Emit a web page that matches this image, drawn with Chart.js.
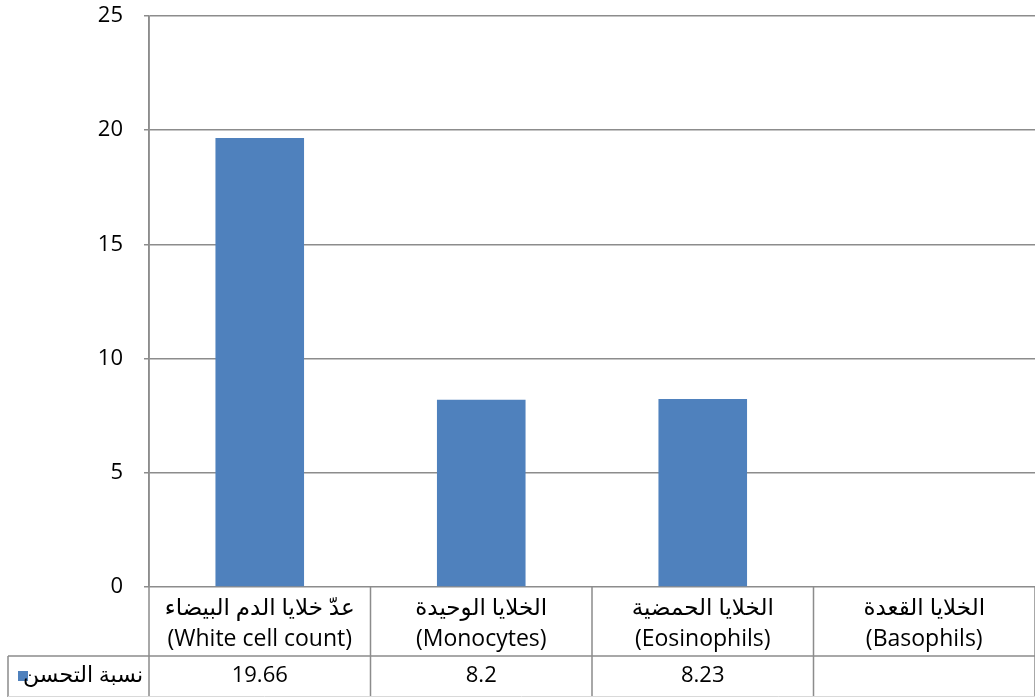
<!DOCTYPE html>
<html>
<head>
<meta charset="utf-8">
<script src="https://cdn.jsdelivr.net/npm/chart.js@4.4.1/dist/chart.umd.min.js"></script>
<style>
  html, body { margin: 0; padding: 0; background: #fff; }
  #wrap { width: 1035px; height: 697px; position: relative; }
</style>
</head>
<body>
<div id="wrap"><canvas id="c" width="1035" height="697"></canvas></div>
<script>
// ---- data ----
const categoriesAr = ['عدّ خلايا الدم البيضاء', 'الخلايا الوحيدة', 'الخلايا الحمضية', 'الخلايا القعدة'];
const categoriesEn = ['(White cell count)', '(Monocytes)', '(Eosinophils)', '(Basophils)'];
const seriesName = 'نسبة التحسن';
const seriesValues = [19.66, 8.2, 8.23, null];
const valueLabels = ['19.66', '8.2', '8.23', ''];
const yTicks = [0, 5, 10, 15, 20, 25];

const FONT = "'Open Sans', 'DejaVu Sans', sans-serif";
const BAR_COLOR = '#4F81BD';
const LINE_COLOR = '#8c8c8c';

const labels = categoriesAr.map((a, i) => [a, categoriesEn[i]]);

const tablePlugin = {
  id: 'dataTable',
  afterDraw(chart) {
    const ctx = chart.ctx;
    const xs = chart.scales.x;
    const area = chart.chartArea;
    const H = chart.height;
    const rowTop = 656;
    const rowBottom = 696;
    const n = labels.length;
    const half = (xs.getPixelForValue(1) - xs.getPixelForValue(0)) / 2;
    ctx.save();
    ctx.strokeStyle = LINE_COLOR;
    ctx.lineWidth = 1.5;
    ctx.beginPath();
    ctx.moveTo(area.left, area.top);
    ctx.lineTo(area.left, H);
    for (let i = 0; i < n; i++) {
      const bx = xs.getPixelForValue(i) + half;
      ctx.moveTo(bx, area.bottom);
      ctx.lineTo(bx, H);
    }
    ctx.moveTo(8, rowTop);
    ctx.lineTo(chart.width, rowTop);
    ctx.moveTo(8, rowTop);
    ctx.lineTo(8, H);
    ctx.stroke();
    ctx.strokeStyle = '#d9d9d9';
    ctx.lineWidth = 1;
    ctx.beginPath();
    ctx.moveTo(8, rowBottom + 0.5);
    ctx.lineTo(chart.width, rowBottom + 0.5);
    ctx.stroke();

    const midY = (rowTop + rowBottom) / 2;
    ctx.fillStyle = BAR_COLOR;
    ctx.fillRect(18, midY - 5, 10, 10);
    ctx.fillStyle = '#000';
    ctx.font = '22px ' + FONT;
    ctx.textBaseline = 'middle';
    ctx.direction = 'rtl';
    ctx.textAlign = 'right';
    ctx.fillText(seriesName, 143, midY);
    ctx.direction = 'ltr';
    ctx.textAlign = 'center';
    for (let i = 0; i < n; i++) {
      ctx.fillText(valueLabels[i], xs.getPixelForValue(i), midY);
    }
    ctx.restore();
  }
};

new Chart(document.getElementById('c'), {
  type: 'bar',
  data: {
    labels: labels,
    datasets: [{
      label: seriesName,
      data: seriesValues,
      backgroundColor: BAR_COLOR,
      borderWidth: 0,
      barPercentage: 0.4,
      categoryPercentage: 1.0
    }]
  },
  options: {
    responsive: false,
    animation: false,
    devicePixelRatio: 1,
    layout: { padding: { top: 0, left: 0, right: 0, bottom: 0 } },
    plugins: { legend: { display: false }, tooltip: { enabled: false } },
    scales: {
      x: {
        grid: { display: false },
        border: { display: false },
        ticks: {
          color: '#000',
          font: { family: FONT, size: 23, lineHeight: 1.35 },
          padding: -2,
          maxRotation: 0,
          autoSkip: false
        },
        afterFit(scale) {
          scale.height = 110;
          scale.paddingTop = 0;
          scale.paddingBottom = 0;
        }
      },
      y: {
        min: 0,
        max: 25,
        afterBuildTicks(scale) { scale.ticks = yTicks.map(v => ({ value: v })); },
        grid: { color: LINE_COLOR, lineWidth: 1.5, tickLength: 5, tickColor: LINE_COLOR },
        border: { display: true, color: LINE_COLOR, width: 1.5 },
        ticks: {
          color: '#000',
          font: { family: FONT, size: 22 },
          padding: 21
        },
        afterFit(scale) {
          scale.width = 149;
          scale.paddingTop = 16;
          scale.paddingBottom = 0;
        }
      }
    }
  },
  plugins: [tablePlugin]
});
</script>
</body>
</html>
